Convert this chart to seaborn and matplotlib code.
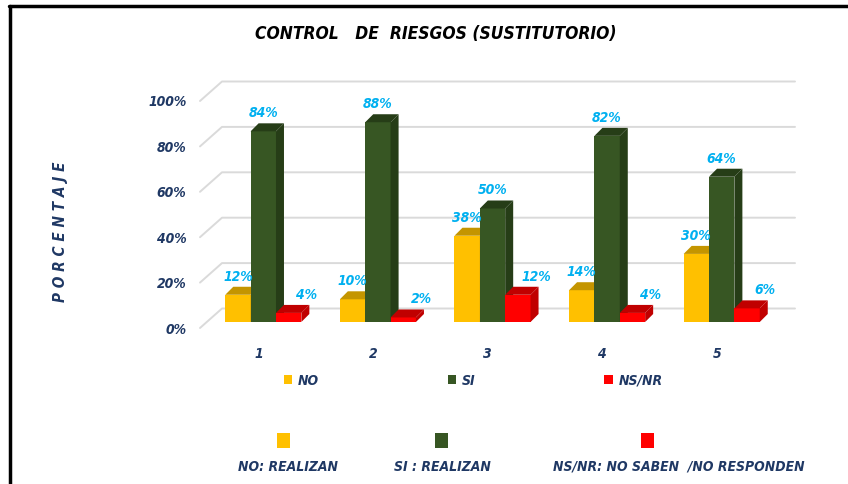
import pandas as pd
import matplotlib
matplotlib.use('Agg')
import matplotlib.pyplot as plt
import seaborn as sns
from matplotlib.patches import Polygon, Patch, Rectangle
from matplotlib.lines import Line2D
from matplotlib.ticker import FuncFormatter
from matplotlib.transforms import ScaledTranslation

# data (percent)
groups = ['1', '2', '3', '4', '5']
series = ['NO', 'SI', 'NS/NR']
no_vals = [12, 10, 38, 14, 30]
si_vals = [84, 88, 50, 82, 64]
nsnr_vals = [4, 2, 12, 4, 6]
y_ticks = [0, 20, 40, 60, 80, 100]
bottom_notes = ['NO: REALIZAN', 'SI : REALIZAN', 'NS/NR: NO SABEN  /NO RESPONDEN']

front_colors = ['#FFC000', '#375623', '#FF0000']
dark_colors = ['#C49500', '#263D17', '#C00000']
label_blue = '#00B0F0'
navy = '#1F3864'

df = pd.DataFrame({
  'grupo': groups * 3,
  'serie': [s for s in series for _ in groups],
  'valor': no_vals + si_vals + nsnr_vals,
})

sns.set_style('white')
plt.rcParams['font.family'] = ['DejaVu Sans']
plt.rcParams['font.stretch'] = 'condensed'

W, H = 848, 485
fig = plt.figure(figsize=(W / 100, H / 100), dpi=100)
# axes box = front plane of the 3d chart (pixels)
L, R, T, B = 206, 779, 96, 323
ax = fig.add_axes([L / W, (H - B) / H, (R - L) / W, (B - T) / H])

sns.barplot(data=df, x='grupo', y='valor', hue='serie', hue_order=series,
            palette=front_colors, saturation=1, width=0.664, gap=0,
            linewidth=0, legend=False, ax=ax, zorder=3)
ax.set_xlim(-0.5, 4.5)
ax.set_ylim(0, 100)

# pixel -> data units
px_x = 5 / (R - L)
px_y = 100 / (B - T)

# gridlines drawn on the back wall, with the little diagonal on the left
back_dx, back_dy = 16, 13.5
for v in y_ticks:
  ax.plot([-0.5 - 6 * px_x, -0.5 + back_dx * px_x, 4.5 + back_dx * px_x],
          [v - 6 * px_y, v + back_dy * px_y, v + back_dy * px_y],
          color='#DADADA', lw=1.4, clip_on=False, zorder=1)

# 3d look: top and side faces for every bar + data labels
depth = 8
n = len(groups)
label_dx = [0, 0, 18]
for i, p in enumerate(ax.patches):
  k = i // n
  x0, w, h = p.get_x(), p.get_width(), p.get_height()
  ddx, ddy = depth * px_x, depth * px_y
  z = 3 + k * 0.3
  p.set_zorder(z)
  top = Polygon([(x0, h), (x0 + w, h), (x0 + w + ddx, h + ddy), (x0 + ddx, h + ddy)],
                closed=True, facecolor=dark_colors[k], edgecolor='none', zorder=z, clip_on=False)
  side = Polygon([(x0 + w, 0), (x0 + w + ddx, ddy), (x0 + w + ddx, h + ddy), (x0 + w, h)],
                 closed=True, facecolor=dark_colors[k], edgecolor='none', zorder=z, clip_on=False)
  ax.add_patch(top)
  ax.add_patch(side)
  ax.text(x0 + w / 2 + label_dx[k] * px_x, h + 19 * px_y, f'{h:.0f}%',
          ha='center', va='center', color=label_blue, fontsize=10,
          fontweight='bold', fontstyle='italic', zorder=10)

ax.yaxis.set_major_formatter(FuncFormatter(lambda v, pos: f'{v:.0f}%'))
ax.set_yticks(y_ticks)
ax.tick_params(axis='y', length=0, pad=14, labelsize=10, labelcolor=navy)
ax.tick_params(axis='x', length=0, pad=17, labelsize=10, labelcolor=navy)
for lab in ax.get_yticklabels():
  lab.set_fontweight('bold')
  lab.set_fontstyle('italic')
  lab.set_transform(lab.get_transform() + ScaledTranslation(0, -5 / 100, fig.dpi_scale_trans))
for lab in ax.get_xticklabels():
  lab.set_fontweight('bold')
  lab.set_fontstyle('italic')
  lab.set_transform(lab.get_transform() + ScaledTranslation(-5 / 100, 0, fig.dpi_scale_trans))
sns.despine(ax=ax, left=True, bottom=True)
ax.set_xlabel('')
ax.set_ylabel('P O R C E N T A J E', fontsize=11, fontweight='bold',
              fontstyle='italic', color=navy)
ax.yaxis.set_label_coords((68 - L) / (R - L), (B - 232) / (B - T))

# title
fig.text(436 / W, 1 - 34 / H, 'CONTROL   DE  RIESGOS (SUSTITUTORIO)',
         ha='center', va='center', fontsize=12.5, fontweight='heavy', fontstyle='italic',
         color='black')

# legend
handles = [Patch(facecolor=c, edgecolor='none') for c in front_colors]
fig.legend(handles, series, loc='center', bbox_to_anchor=(473 / W, 1 - 381 / H),
           ncol=3, frameon=False, handlelength=0.6, handleheight=0.6,
           handletextpad=0.4, columnspacing=9.3,
           prop={'weight': 'bold', 'style': 'italic', 'size': 10}, labelcolor=navy)

# bottom notes
sq_x = [277, 435, 641]
txt_x = [288, 442, 679]
for sx, tx, c, note in zip(sq_x, txt_x, front_colors, bottom_notes):
  fig.add_artist(Rectangle((sx / W, 1 - 449 / H), 13 / W, 15 / H,
                           transform=fig.transFigure, facecolor=c, edgecolor='none'))
  fig.text(tx / W, 1 - 467 / H, note, ha='center', va='center', fontsize=10,
           fontweight='bold', fontstyle='italic', color=navy)

# frame lines (top and left)
fig.add_artist(Line2D([9 / W, 1], [1 - 7 / H, 1 - 7 / H], transform=fig.transFigure,
                      color='black', lw=2.5))
fig.add_artist(Line2D([9.5 / W, 9.5 / W], [0, 1 - 7 / H], transform=fig.transFigure,
                      color='black', lw=2.5))

fig.savefig('out.png', dpi=100)
